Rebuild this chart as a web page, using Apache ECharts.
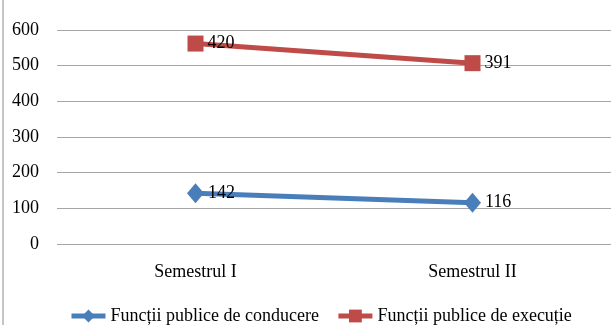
<!DOCTYPE html>
<html>
<head>
<meta charset="utf-8">
<script src="https://cdn.jsdelivr.net/npm/echarts@6/dist/echarts.min.js"></script>
<style>
	html,body{margin:0;padding:0;background:#fff;}
	#chart{width:611px;height:325px;}
</style>
</head>
<body>
<div id="chart"></div>
<script>
	var categories = ['Semestrul I', 'Semestrul II'];
	var conducere = [142, 116];
	var executie = [420, 391];
	var seriesNames = ['Funcții publice de conducere', 'Funcții publice de execuție'];

	var chart = echarts.init(document.getElementById('chart'));
	var serif = 'Liberation Serif';
	var option = {
		animation: false,
		textStyle: {fontFamily: serif},
		graphic: [{
			type: 'line',
			shape: {x1: 3, y1: 0, x2: 3, y2: 325},
			style: {stroke: '#8c8c8c', lineWidth: 1}
		}],
		grid: {
			left: 57,
			right: -12,
			top: 30,
			bottom: 81
		},
		legend: {
			bottom: -5,
			left: 64,
			itemGap: 17,
			itemWidth: 34,
			itemHeight: 16,
			data: seriesNames,
			lineStyle: {width: 5},
			textStyle: {color: '#000', fontSize: 18, fontFamily: serif}
		},
		xAxis: {
			type: 'category',
			data: categories,
			axisLine: {show: false},
			axisTick: {show: false},
			axisLabel: {color: '#000', fontSize: 18, margin: 19, fontFamily: serif}
		},
		yAxis: {
			type: 'value',
			min: 0,
			max: 600,
			interval: 100,
			axisLine: {show: false},
			axisTick: {show: false},
			axisLabel: {color: '#000', fontSize: 18, margin: 18, fontFamily: serif, padding: [5, 0, 0, 0]},
			splitLine: {lineStyle: {color: '#a6a6a6', width: 1}}
		},
		series: [{
			name: seriesNames[0],
			type: 'line',
			stack: 'total',
			data: conducere,
			symbol: 'diamond',
			symbolSize: [17, 20],
			lineStyle: {color: '#4a7ebb', width: 5},
			itemStyle: {color: '#4a7ebb'},
			label: {show: true, position: 'right', distance: 4, color: '#000', fontSize: 18, fontFamily: serif}
		}, {
			name: seriesNames[1],
			type: 'line',
			stack: 'total',
			data: executie,
			symbol: 'rect',
			symbolSize: 16,
			lineStyle: {color: '#be4b48', width: 5},
			itemStyle: {color: '#be4b48'},
			label: {show: true, position: 'right', distance: 4, color: '#000', fontSize: 18, fontFamily: serif}
		}]
	};
	chart.setOption(option);
</script>
</body>
</html>
